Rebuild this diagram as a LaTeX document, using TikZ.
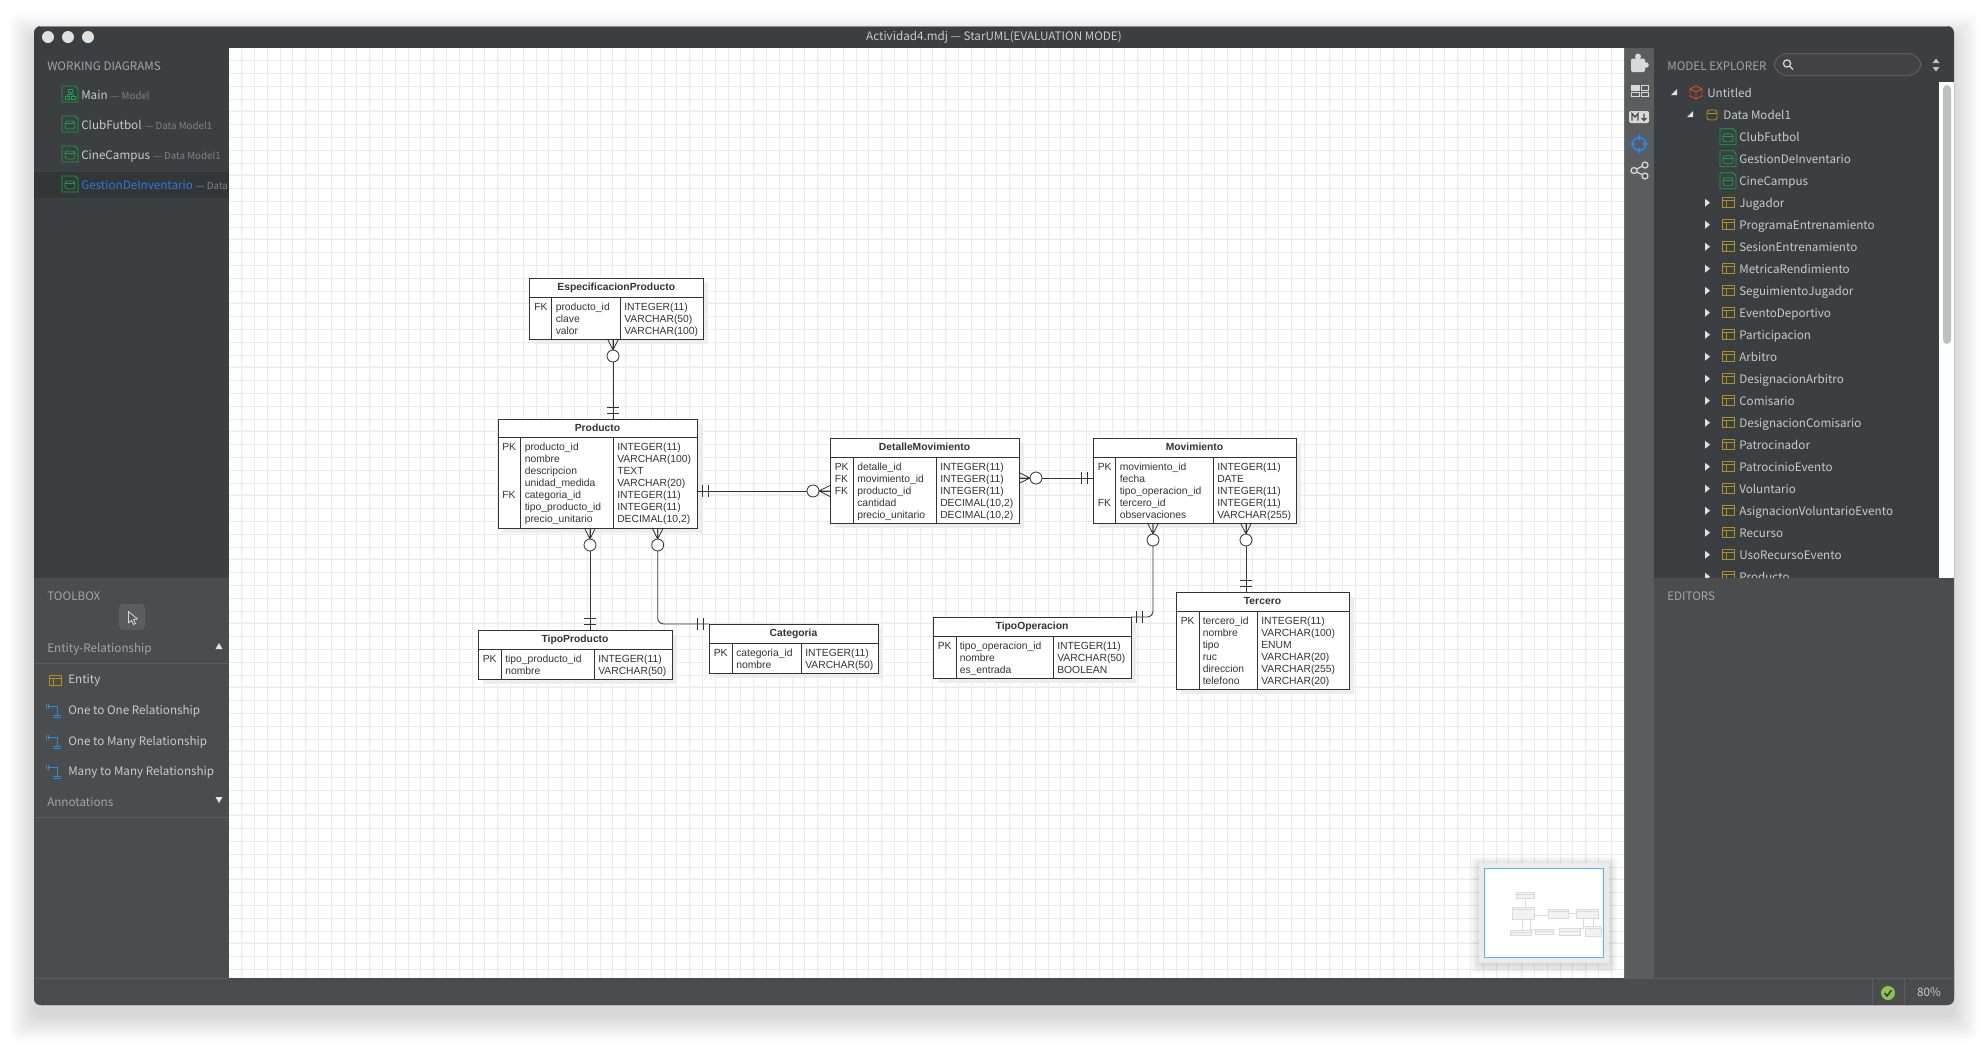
\documentclass[tikz,border=0pt]{standalone}
\usepackage{fontspec}
\setmainfont{Liberation Sans}
\newfontfamily\uifont{Noto Sans CJK SC}
\usetikzlibrary{calc}
\definecolor{paneldark}{HTML}{3B3F41}
\definecolor{panelgray}{HTML}{4B4C4E}
\definecolor{stripgray}{HTML}{5B5C5E}
\definecolor{rulegray}{HTML}{5A5C5E}
\definecolor{gridline}{HTML}{EBEBEB}
\definecolor{gridband}{HTML}{F5F5F5}
\definecolor{labelfg}{HTML}{C9CBCC}
\definecolor{headfg}{HTML}{A3A5A6}
\definecolor{subfg}{HTML}{808385}
\definecolor{diagramgreen}{HTML}{17A24A}
\definecolor{tablegold}{HTML}{B0901E}
\definecolor{relblue}{HTML}{2A8FD8}
\definecolor{selblue}{HTML}{2E7BDB}
\definecolor{inkfg}{HTML}{333333}
\def\px{0.75pt}
\tikzset{
  link/.style = {draw = inkfg, line width = 0.62pt},
  uitext/.style = {anchor = west, inner sep = 0, text height = 7.5pt, text depth = 0.9pt, text = labelfg, font = \uifont\fontsize{8.75}{11}\selectfont},
  headtext/.style = {uitext, text = headfg},
  subtext/.style = {uitext, text = subfg, font = \uifont\fontsize{7.3}{9}\selectfont},
  rowtext/.style = {anchor = base west, inner sep = 0, text = inkfg, font = \fontsize{7.75}{9}\selectfont},
  entityframe/.style = {draw = inkfg, line width = 0.62pt, fill = white, inner sep = 0, outer sep = 0},
  zeromany/.pic = {
    \draw [link] (0,-5.5) -- (11,0) -- (0,5.5) (0,0) -- (11,0);
    \draw [link, fill = white] (17,0) circle [radius = 6];
  },
  onlyone/.pic = {
    \draw [link] (5.5,-6) -- (5.5,6) (11.5,-6) -- (11.5,6);
  },
  diagicon/.pic = {
    \draw [diagramgreen, line width = 0.6pt] (-8,-8) -- (5,-8) -- (8,-5) -- (8,8) -- (-8,8) -- cycle;
    \draw [diagramgreen, line width = 0.6pt, rounded corners = 2.5*\px] (-5,-3) rectangle (5,5);
    \draw [diagramgreen, line width = 0.6pt] (-5,-0.5) -- (5,-0.5);
  },
  treeicon/.pic = {
    \draw [diagramgreen, line width = 0.6pt] (-8,-8) -- (5,-8) -- (8,-5) -- (8,8) -- (-8,8) -- cycle;
    \draw [diagramgreen, line width = 0.6pt] (-2,-5) rectangle (2,-2) (-5,2) rectangle (-1,5) (1,2) rectangle (5,5) (0,-2) -- (0,0) (-3,2) -- (-3,0) -- (3,0) -- (3,2);
  },
  tableicon/.pic = {
    \draw [tablegold, line width = 0.6pt] (-6,-5) rectangle (6,5) (-6,-2) -- (6,-2) (-2,-2) -- (-2,5);
  },
  dbicon/.pic = {
    \draw [tablegold, line width = 0.6pt, rounded corners = 2.5*\px] (-5,-5) rectangle (5,5);
    \draw [tablegold, line width = 0.6pt] (-5,-2) -- (5,-2);
  },
  relicon/.pic = {
    \draw [relblue, line width = 0.6pt] (-3,-4) -- (5,-4) -- (5,5) (1,5) -- (9,5) (1,7) -- (9,7) (-6,-6.5) -- (-6,-1.5) (-4,-6.5) -- (-4,-1.5);
  }
}
\newcommand\entitybox[9]{
  \pgfmathsetlengthmacro\boxw{(#4-#2)*\px};
  \pgfmathsetlengthmacro\boxh{(#5-#3)*\px};
  \fill [black!7] (#2+5,#3+5) rectangle (#4+5,#5+5);
  \node [entityframe, minimum width = \boxw, minimum height = \boxh] (#1) at ({(#2+#4)/2},{(#3+#5)/2}) {};
  \draw [link] (#2,#6) -- (#4,#6) (#7,#6) -- (#7,#5) (#8,#6) -- (#8,#5);
  \node [rowtext, anchor = base, font = \bfseries\fontsize{7.75}{9}\selectfont] (#1-title) at ({(#2+#4)/2},#3+12.6) {#9};
}
\newcommand\entityrows[4]{
  \foreach \rowlabel [count = \i] in {#4} \node [rowtext] (#1-\i) at (#2,#3+1.4+12*\i) {\rowlabel};
}
\begin{document}
\begin{tikzpicture}[x = 0.75pt, y = -0.75pt]
\useasboundingbox (0,0) rectangle (1988,1047);
\fill [white] (0,0) rectangle (1988,1047);
\foreach \r in {24,22,...,0} \fill [black, opacity = 0.013, rounded corners = 6] (34-\r,26-\r+12) rectangle (1954+\r,1005+\r+12);
\fill [paneldark, rounded corners = 5] (34,26) rectangle (1954,1005);
\fill [panelgray, rounded corners = 5] (34,960) rectangle (1954,1005);
\draw [black!45, line width = 0.5pt] (40,26) -- (1948,26);
\fill [panelgray] (34,578) rectangle (229,978);
\fill [paneldark!85!black] (34,172) rectangle (229,198);
\fill [stripgray] (1624,48) rectangle (1654,978);
\fill [white] (229,48) rectangle (1624,978);
\begin{scope}
\clip (229,48) rectangle (1624,978);
\foreach \n in {0,...,21} \draw [gridband, line width = 1.5pt] (241.7+64*\n,48) -- (241.7+64*\n,978);
\foreach \n in {0,...,14} \draw [gridband, line width = 1.5pt] (229,47.3+64*\n) -- (1624,47.3+64*\n);
\foreach \n in {0,...,108} \draw [gridline, line width = 0.75pt] (241.7+12.8*\n,48) -- (241.7+12.8*\n,978);
\foreach \n in {0,...,72} \draw [gridline, line width = 0.75pt] (229,60.7+12.8*\n) -- (1624,60.7+12.8*\n);
\end{scope}
\foreach \c in {48,68,88} \fill [white!88!black] (\c,37) circle [radius = 6];
\node [anchor = center, inner sep = 0, text = labelfg, font = \uifont\fontsize{8.75}{11}\selectfont] (wintitle) at (994,37.5) {Actividad4.mdj — StarUML(EVALUATION MODE)};
\node [headtext] (workhead) at (47,66.5) {WORKING DIAGRAMS};
\pic at (70,94) {treeicon};
\pic at (70,124) {diagicon};
\pic at (70,154) {diagicon};
\pic at (70,184) {diagicon};
\node [uitext] (wmain) at (81,95.5) {Main};
\node [uitext] (wclub) at (81,125.5) {ClubFutbol};
\node [uitext] (wcine) at (81,155.5) {CineCampus};
\node [uitext, text = selblue] (wgest) at (81,185.5) {GestionDeInventario};
\node [subtext] (wmainsub) at ([xshift = 2pt]wmain.east) {— Model};
\node [subtext] (wclubsub) at ([xshift = 2pt]wclub.east) {— Data Model1};
\node [subtext] (wcinesub) at ([xshift = 2pt]wcine.east) {— Data Model1};
\node [subtext] (wgestsub) at ([xshift = 2pt]wgest.east) {— Data};
\node [headtext] (toolhead) at (47,596.5) {TOOLBOX};
\fill [stripgray, rounded corners = 3] (119,604) rectangle (145,630);
\draw [white!85!black, line width = 0.6pt, line join = round] (128.5,611.5) -- (128.5,623) -- (131.5,620.5) -- (133.5,624.5) -- (135.5,623.5) -- (133.5,619.5) -- (137.5,619) -- cycle;
\node [headtext] (erhead) at (47,648) {Entity-Relationship};
\fill [white!90!black] (215.5,649) -- (222.5,649) -- (219,643) -- cycle;
\draw [rulegray, line width = 0.75pt] (34,663) -- (229,663) (34,817) -- (229,817);
\pic at (55,680) {tableicon};
\pic at (52,710) {relicon};
\pic at (52,741) {relicon};
\pic at (52,771) {relicon};
\node [uitext] (tentity) at (68,679.5) {Entity};
\node [uitext] (tone) at (68,710.5) {One to One Relationship};
\node [uitext] (tmany) at (68,741.5) {One to Many Relationship};
\node [uitext] (tmm) at (68,771.5) {Many to Many Relationship};
\node [headtext] (annhead) at (47,802) {Annotations};
\fill [white!90!black] (215.5,797) -- (222.5,797) -- (219,803) -- cycle;
\node [headtext] (explhead) at (1667,66) {MODEL EXPLORER};
\draw [rulegray, fill = white!26!black, line width = 0.75pt, rounded corners = 10] (1774,53.5) rectangle (1921,75.5);
\draw [white!85!black, line width = 0.9pt] (1787,63.5) circle [radius = 3.6] (1790,66.5) -- (1793,69.5);
\fill [white!75!black] (1932.5,63) -- (1939.5,63) -- (1936,58.5) -- cycle (1932.5,67) -- (1939.5,67) -- (1936,71.5) -- cycle;
\fill [white!85!black, rounded corners = 1] (1631,58.5) rectangle (1645,72);
\fill [white!85!black] (1638,56.5) circle [radius = 3] (1646,65) circle [radius = 2.8];
\draw [white!85!black, line width = 0.7pt] (1631.5,85) rectangle (1639,90.5) (1641,85) rectangle (1648,90.5) (1631.5,92) rectangle (1639,96.5) (1641,92) rectangle (1648,96.5);
\fill [white!85!black] (1631.5,85) rectangle (1639,90.5);
\fill [white!85!black, rounded corners = 1.5] (1629,111) rectangle (1649,123);
\draw [black!70, line width = 1pt] (1632,120.5) -- (1632,113.5) -- (1635,117) -- (1638,113.5) -- (1638,120.5) (1644,113.5) -- (1644,120.5) (1641.5,118) -- (1644,120.5) -- (1646.5,118);
\draw [blue!55!cyan!85!white, line width = 1.1pt] (1639,144) circle [radius = 6.5] (1639,135) -- (1639,140) (1639,148) -- (1639,153) (1630,144) -- (1635,144) (1643,144) -- (1648,144);
\draw [white!85!black, line width = 0.9pt] (1634,170.5) circle [radius = 3] (1645,165) circle [radius = 3] (1645,176) circle [radius = 3] (1636.7,169) -- (1642.3,166.3) (1636.7,172) -- (1642.3,174.7);
\fill [white] (1939,82) rectangle (1954,578);
\fill [white!75!black, rounded corners = 3] (1943,85) rectangle (1951,344);
\fill [white!88!black] (1671,95) -- (1677,95) -- (1677,89) -- cycle (1687,117) -- (1693,117) -- (1693,111) -- cycle;
\draw [red!45!brown, line width = 0.7pt] (1696,86) -- (1702,89) -- (1702,96) -- (1696,99) -- (1690,96) -- (1690,89) -- cycle (1690,89) -- (1696,92) -- (1702,89) (1696,92) -- (1696,99);
\node [uitext] (untitled) at (1707,92.8) {Untitled};
\pic at (1712,115) {dbicon};
\node [uitext] (datamodel) at (1723,115) {Data Model1};
\foreach \y/\t [count = \i] in {136.7/ClubFutbol,158.7/GestionDeInventario,180.7/CineCampus} {
  \pic at (1728,\y) {diagicon};
  \node [uitext] (dgm-\i) at (1739,\y+0.3) {\t};
}
\foreach \t [count = \i] in {Jugador,ProgramaEntrenamiento,SesionEntrenamiento,MetricaRendimiento,SeguimientoJugador,EventoDeportivo,Participacion,Arbitro,DesignacionArbitro,Comisario,DesignacionComisario,Patrocinador,PatrocinioEvento,Voluntario,AsignacionVoluntarioEvento,Recurso,UsoRecursoEvento,Producto} {
  \pgfmathsetmacro\rowy{180.7+22*\i};
  \fill [white!88!black] (1705,\rowy-4) -- (1710,\rowy) -- (1705,\rowy+4) -- cycle;
  \pic at (1728,\rowy) {tableicon};
  \node [uitext] (tbl-\i) at (1739,\rowy+0.3) {\t};
}
\fill [panelgray] (1654,578) rectangle (1954,978);
\node [headtext] (edithead) at (1667,596.5) {EDITORS};
\draw [rulegray, line width = 0.75pt] (34,978) -- (229,978) (1624,978) -- (1954,978) (1872,978) -- (1872,1005) (1904,978) -- (1904,1005);
\fill [green!45!brown!80!white] (1888,993) circle [radius = 7];
\draw [paneldark, line width = 1.2pt] (1884.5,993) -- (1887,996) -- (1891.5,990);
\node [anchor = center, inner sep = 0, text = labelfg, font = \uifont\fontsize{8.75}{11}\selectfont] (zoomlevel) at (1929,992.5) {80\%};
\foreach \r in {8,6,...,0} \fill [black, opacity = 0.03, rounded corners = 3] (1479-\r,864-\r+1) rectangle (1609+\r,964+\r+1);
\fill [gridline] (1479,863) rectangle (1609,963);
\draw [blue!40!cyan!70!white, fill = white, line width = 0.9pt] (1484.5,868.5) rectangle (1603.5,957.5);
\begin{scope}[shift = {(1516,892)}, xscale = 0.1075, yscale = 0.108]
\foreach \xa/\ya/\xb/\yb in {529.5/278/703/339,498/419/697/528,830/438/1019/523,1093/438/1296/523,478/630/672/679,709/624/878/673,933/617/1131/678,1176/592/1325/689} {
  \draw [black!14, fill = black!5, line width = 0.35pt] (\xa-529.5,\ya-278) rectangle (\xb-529.5,\yb-278);
  \draw [black!14, line width = 0.4pt] (\xa-529.5,\ya-256) -- (\xb-529.5,\ya-256);
}
\draw [black!14, line width = 0.35pt] (83.5,61) -- (83.5,141) (167.5,213) -- (300.5,213) (60.5,250) -- (60.5,352) (128.2,250) -- (128.2,346) -- (179.5,346) (489.5,200) -- (563.5,200) (623.5,245) -- (623.5,339) -- (601.5,339) (716.5,245) -- (716.5,314);
\end{scope}
\entitybox{espec}{529.5}{278}{703}{339}{297}{551}{620}{EspecificacionProducto}
\entityrows{espec-k}{534}{297}{FK}
\entityrows{espec-n}{555.5}{297}{producto\_id,clave,valor}
\entityrows{espec-t}{624}{297}{INTEGER(11),VARCHAR(50),VARCHAR(100)}
\entitybox{producto}{498}{419}{697}{528}{437}{520}{613}{Producto}
\entityrows{producto-k}{502}{437}{PK,,,,FK}
\entityrows{producto-n}{524.5}{437}{producto\_id,nombre,descripcion,unidad\_medida,categoria\_id,tipo\_producto\_id,precio\_unitario}
\entityrows{producto-t}{617}{437}{INTEGER(11),VARCHAR(100),TEXT,VARCHAR(20),INTEGER(11),INTEGER(11),{DECIMAL(10,2)}}
\entitybox{detalle}{830}{438}{1019}{523}{457}{853}{936}{DetalleMovimiento}
\entityrows{detalle-k}{834.5}{457}{PK,FK,FK}
\entityrows{detalle-n}{857}{457}{detalle\_id,movimiento\_id,producto\_id,cantidad,precio\_unitario}
\entityrows{detalle-t}{940}{457}{INTEGER(11),INTEGER(11),INTEGER(11),{DECIMAL(10,2)},{DECIMAL(10,2)}}
\entitybox{movimiento}{1093}{438}{1296}{523}{457}{1115}{1213}{Movimiento}
\entityrows{movimiento-k}{1097.5}{457}{PK,,,FK}
\entityrows{movimiento-n}{1119.5}{457}{movimiento\_id,fecha,tipo\_operacion\_id,tercero\_id,observaciones}
\entityrows{movimiento-t}{1217}{457}{INTEGER(11),DATE,INTEGER(11),INTEGER(11),VARCHAR(255)}
\entitybox{tipoproducto}{478}{630}{672}{679}{649}{501}{594}{TipoProducto}
\entityrows{tipoproducto-k}{482.5}{649}{PK}
\entityrows{tipoproducto-n}{505}{649}{tipo\_producto\_id,nombre}
\entityrows{tipoproducto-t}{598}{649}{INTEGER(11),VARCHAR(50)}
\entitybox{categoria}{709}{624}{878}{673}{643}{732}{801}{Categoria}
\entityrows{categoria-k}{713.5}{643}{PK}
\entityrows{categoria-n}{736}{643}{categoria\_id,nombre}
\entityrows{categoria-t}{805}{643}{INTEGER(11),VARCHAR(50)}
\entitybox{tipooperacion}{933}{617}{1131}{678}{636}{956}{1053}{TipoOperacion}
\entityrows{tipooperacion-k}{937.5}{636}{PK}
\entityrows{tipooperacion-n}{959.5}{636}{tipo\_operacion\_id,nombre,es\_entrada}
\entityrows{tipooperacion-t}{1057}{636}{INTEGER(11),VARCHAR(50),BOOLEAN}
\entitybox{tercero}{1176}{592}{1349}{689}{611}{1199}{1257}{Tercero}
\entityrows{tercero-k}{1180.5}{611}{PK}
\entityrows{tercero-n}{1202.5}{611}{tercero\_id,nombre,tipo,ruc,direccion,telefono}
\entityrows{tercero-t}{1261}{611}{INTEGER(11),VARCHAR(100),ENUM,VARCHAR(20),VARCHAR(255),VARCHAR(20)}
\draw [link] ([xshift = -3.25*\px]espec.south) -- ([xshift = 15.5*\px]producto.north);
\pic [rotate = -90] at ([xshift = -3.25*\px]espec.south) {zeromany};
\pic [rotate = 90] at ([xshift = 15.5*\px]producto.north) {onlyone};
\draw [link] ([yshift = -17.5*\px]producto.east) -- ([yshift = -10.5*\px]detalle.west);
\pic at ([yshift = -17.5*\px]producto.east) {onlyone};
\pic [rotate = 180] at ([yshift = -10.5*\px]detalle.west) {zeromany};
\draw [link] ([xshift = -7.5*\px]producto.south) -- ([xshift = 15*\px]tipoproducto.north);
\pic [rotate = -90] at ([xshift = -7.5*\px]producto.south) {zeromany};
\pic [rotate = 90] at ([xshift = 15*\px]tipoproducto.north) {onlyone};
\draw [link, rounded corners = 6*\px] ([xshift = 60.2*\px]producto.south) |- (categoria.north west);
\pic [rotate = -90] at ([xshift = 60.2*\px]producto.south) {zeromany};
\pic [rotate = 180] at (categoria.north west) {onlyone};
\draw [link] ([yshift = 2.5*\px]detalle.east) -- ([yshift = 2.5*\px]movimiento.west);
\pic at ([yshift = 2.5*\px]detalle.east) {zeromany};
\pic [rotate = 180] at ([yshift = 2.5*\px]movimiento.west) {onlyone};
\draw [link, rounded corners = 6*\px] ([xshift = -41.5*\px]movimiento.south) |- (tipooperacion.north east);
\pic [rotate = -90] at ([xshift = -41.5*\px]movimiento.south) {zeromany};
\pic at (tipooperacion.north east) {onlyone};
\draw [link] ([xshift = 51.5*\px]movimiento.south) -- ([xshift = -16.5*\px]tercero.north);
\pic [rotate = -90] at ([xshift = 51.5*\px]movimiento.south) {zeromany};
\pic [rotate = 90] at ([xshift = -16.5*\px]tercero.north) {onlyone};
\end{tikzpicture}
\end{document}
